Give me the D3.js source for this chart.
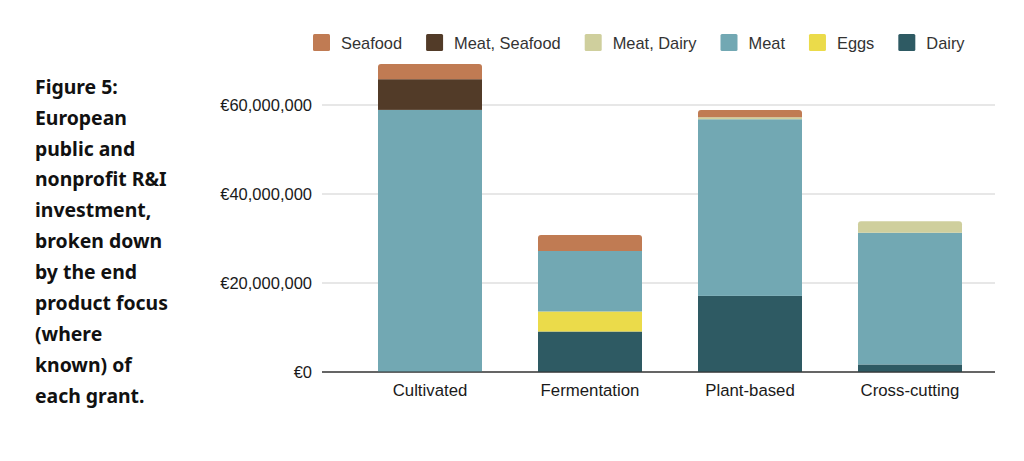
<!DOCTYPE html>
<html><head><meta charset="utf-8">
<script src="https://cdn.jsdelivr.net/npm/d3@7"></script>
<style>body{margin:0;background:#fff;} svg{display:block;}</style>
</head><body>
<svg id="c" width="1024" height="461"></svg>
<script>
const categories = ["Cultivated", "Fermentation", "Plant-based", "Cross-cutting"];
const seriesNames = ["Dairy", "Eggs", "Meat", "Meat, Dairy", "Meat, Seafood", "Seafood"];
const dairy        = [0,        9100000, 17100000, 1700000];
const eggs         = [0,        4500000, 0,        0];
const meat         = [58900000, 13600000, 39700000, 29600000];
const meatDairy    = [0,        0,        450000,   2600000];
const meatSeafood  = [6900000,  0,        0,        0];
const seafood      = [3400000,  3600000,  1600000,  0];
const yTicks = [0, 20000000, 40000000, 60000000];
const titleLines = ["Figure 5:", "European", "public and", "nonprofit R&I", "investment,", "broken down", "by the end", "product focus", "(where", "known) of", "each grant."];
const colors = {"Dairy":"#2e5a63","Eggs":"#ebdb4a","Meat":"#72a8b3","Meat, Dairy":"#cfcf9d","Meat, Seafood":"#523b28","Seafood":"#c07b53"};

const valuesBySeries = {"Dairy":dairy,"Eggs":eggs,"Meat":meat,"Meat, Dairy":meatDairy,"Meat, Seafood":meatSeafood,"Seafood":seafood};
const table = categories.map((c,i)=>{const o={cat:c}; seriesNames.forEach(s=>o[s]=valuesBySeries[s][i]); return o;});
const stack = d3.stack().keys(seriesNames)(table);

const svg = d3.select("#c");
const x = d3.scaleBand().domain(categories).range([350, 990]).paddingInner(0.35).paddingOuter(0.175);
const y = d3.scaleLinear().domain([0, 60000000]).range([372, 105]);
const font = "'Liberation Sans', Arial, sans-serif";

// gridlines
svg.append("g").selectAll("line").data(yTicks).join("line")
  .attr("x1", 322).attr("x2", 995)
  .attr("y1", d=>y(d)).attr("y2", d=>y(d))
  .attr("stroke", d=>d===0?"#333":"#d0d0d0").attr("stroke-width", 1.2);

// y labels
const fmt = d=>"€"+d3.format(",")(d);
svg.append("g").selectAll("text").data(yTicks).join("text")
  .attr("x", 312).attr("y", d=>y(d)).attr("dy","0.35em")
  .attr("text-anchor","end").attr("font-family",font).attr("font-size",16.5).attr("fill","#1a1a1a")
  .text(fmt);

// bars
const topIdx = categories.map((c,i)=>{let t=-1; seriesNames.forEach((s,k)=>{if(valuesBySeries[s][i]>0)t=k;}); return t;});
stack.forEach((layer,k)=>{
  const g = svg.append("g").attr("fill", colors[layer.key]);
  layer.forEach((d,i)=>{
    if(d[1]-d[0]<=0) return;
    const x0 = x(categories[i]), w = x.bandwidth(), y0 = y(d[0]), y1 = y(d[1]);
    if(topIdx[i]===k){
      const r = 3;
      g.append("path").attr("d",
        `M${x0},${y0}V${y1+r}Q${x0},${y1} ${x0+r},${y1}H${x0+w-r}Q${x0+w},${y1} ${x0+w},${y1+r}V${y0}Z`);
    } else {
      g.append("rect").attr("x",x0).attr("y",y1).attr("width",w).attr("height",y0-y1);
    }
  });
});
svg.append("line").attr("x1",322).attr("x2",995).attr("y1",y(0)).attr("y2",y(0)).attr("stroke","#333").attr("stroke-width",1.2);

// category labels
svg.append("g").selectAll("text").data(categories).join("text")
  .attr("x", d=>x(d)+x.bandwidth()/2).attr("y", 390).attr("dy","0.35em")
  .attr("text-anchor","middle").attr("font-family",font).attr("font-size",16.8).attr("fill","#1a1a1a")
  .text(d=>d);

// legend
const legendOrder = seriesNames.slice().reverse();
let lx = 313;
const lg = svg.append("g");
legendOrder.forEach(s=>{
  lg.append("rect").attr("x",lx).attr("y",34).attr("width",17).attr("height",17).attr("rx",1.5).attr("fill",colors[s]);
  const t = lg.append("text").attr("x",lx+28).attr("y",43).attr("dy","0.35em")
    .attr("font-family",font).attr("font-size",16.4).attr("fill","#333").text(s);
  lx += 28 + t.node().getComputedTextLength() + 24;
});

// title
svg.append("g").selectAll("text").data(titleLines).join("text")
  .attr("x", 35).attr("y",(d,i)=>87+i*30.9).attr("dy","0.35em")
  .attr("font-family","'Noto Sans', sans-serif").attr("font-weight","bold").attr("font-size",19.4).attr("fill","#111")
  .text(d=>d);
</script>
</body></html>
